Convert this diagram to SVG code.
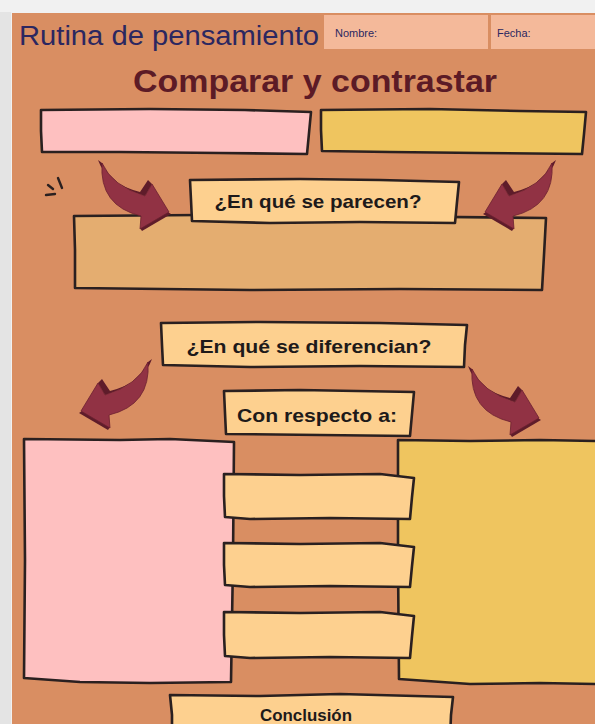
<svg xmlns="http://www.w3.org/2000/svg" width="595" height="724" viewBox="0 0 595 724">
<defs>
<style>
.box{stroke:#2a2020;stroke-width:2.6;stroke-linejoin:round;stroke-linecap:round}
.peach{fill:#fdd08f}
.lbl{font-family:"Liberation Sans",Arial,sans-serif;font-weight:bold;fill:#1e1a1a;text-anchor:middle}
.hdr{font-family:"Liberation Sans",Arial,sans-serif;fill:#2b2760}
.arrow{fill:#913244}
.arrowside{fill:#5e1c2a}
</style>
<g id="arrowShape">
<path class="arrowside" d="M98,160 Q106,183 140,192 L148,180 L152,184 L145,196 Q112,186 102,163 Z"/>
<path class="arrowside" d="M168,212 L171,214 L142,231 L140,228 Z"/>
<path class="arrow" d="M102,163 Q112,186 145,196 L152,184 L169,212 L140,229 L141,216 Q99,206 102,163 Z" stroke="#6b2030" stroke-width="0.8"/>
</g>
</defs>
<rect x="0" y="0" width="595" height="724" fill="#f1f1f1"/>
<rect x="0" y="12" width="11" height="712" fill="#e4e4e4"/>
<rect x="12" y="13" width="583" height="711" fill="#d98e62"/>

<g id="header">
<text class="hdr" x="19" y="45" font-size="27" textLength="300" lengthAdjust="spacingAndGlyphs">Rutina de pensamiento</text>
</g>
<g id="nombre">
<rect x="324" y="15" width="164" height="34" fill="#f4b99a"/>
<text class="hdr" x="335" y="37" font-size="11">Nombre:</text>
</g>
<g id="fecha">
<rect x="491" y="15" width="104" height="34" fill="#f4b99a"/>
<text class="hdr" x="497" y="37" font-size="11">Fecha:</text>
</g>
<g id="title">
<text x="315" y="92" font-family="'Liberation Sans',Arial,sans-serif" font-weight="bold" font-size="32" fill="#5c1b26" text-anchor="middle" textLength="364" lengthAdjust="spacingAndGlyphs">Comparar y contrastar</text>
</g>

<g id="box-a">
<path class="box" fill="#fec0c0" d="M41,110 L150,109 L245,110 L311,112 L309,133 L307,154 L220,153 L120,152 L42,152 L41,131 Z"/>
</g>
<g id="box-b">
<path class="box" fill="#efc55f" d="M321,110 L430,109 L520,111 L586,112 L584,134 L582,154 L480,153 L390,152 L322,151 L321,130 Z"/>
</g>

<g id="similarities-box">
<path class="box" fill="#e4ad70" d="M74,216 L200,215 L360,216 L546,218 L544,255 L542,290 L400,289 L250,290 L75,288 L75,250 Z"/>
</g>
<g id="parecen">
<path class="box peach" d="M190,180 L300,179 L380,180 L459,182 L457,202 L455,223 L360,222 L270,223 L192,221 L191,200 Z"/>
<text class="lbl" x="318" y="208" font-size="19" textLength="207" lengthAdjust="spacingAndGlyphs">¿En qué se parecen?</text>
</g>

<g id="connectors">
<use href="#arrowShape"/>
<use href="#arrowShape" transform="translate(654,0) scale(-1,1)"/>
<use href="#arrowShape" transform="translate(250,199) scale(-1,1)"/>
<use href="#arrowShape" transform="translate(370,206)"/>
<g stroke="#2a2020" stroke-width="2.4" stroke-linecap="round">
<line x1="46" y1="195" x2="55" y2="194"/>
<line x1="48" y1="185" x2="53" y2="189"/>
<line x1="58" y1="178" x2="62" y2="188"/>
</g>
</g>

<g id="diferencian">
<path class="box peach" d="M161,323 L260,322 L380,323 L467,325 L465,345 L464,367 L360,366 L250,367 L163,365 L162,345 Z"/>
<text class="lbl" x="309" y="353" font-size="19" textLength="245" lengthAdjust="spacingAndGlyphs">¿En qué se diferencian?</text>
</g>
<g id="con-respecto">
<path class="box peach" d="M224,391 L300,390 L414,392 L412,414 L410,436 L320,435 L226,434 L225,413 Z"/>
<text class="lbl" x="317" y="422" font-size="19" textLength="160" lengthAdjust="spacingAndGlyphs">Con respecto a:</text>
</g>

<g id="pink-column">
<path class="box" fill="#fec0c0" d="M24,439 L120,440 L170,439 L234,442 L233,560 L231,682 L150,683 L80,682 L24,678 L25,560 Z"/>
</g>
<g id="yellow-column">
<path class="box" fill="#efc55f" d="M398,440 L470,441 L540,440 L598,441 L598,684 L540,683 L470,684 L399,679 L398,560 Z"/>
</g>

<g id="criterio-1">
<path class="box peach" d="M224,474 L300,475 L380,474 L414,478 L412,497 L410,519 L330,518 L250,519 L225,517 L224,496 Z"/>
</g>
<g id="criterio-2">
<path class="box peach" d="M224,543 L300,544 L380,543 L414,547 L412,566 L410,587 L330,586 L250,587 L225,585 L224,565 Z"/>
</g>
<g id="criterio-3">
<path class="box peach" d="M224,612 L300,613 L380,612 L414,616 L412,636 L410,658 L330,657 L250,658 L225,656 L224,635 Z"/>
</g>

<g id="conclusion">
<path class="box peach" d="M170,695 L260,696 L340,694 L453,697 L451,715 L450,740 L172,740 L172,715 Z"/>
<text class="lbl" x="306" y="721" font-size="16" textLength="92" lengthAdjust="spacingAndGlyphs">Conclusión</text>
</g>
</svg>
